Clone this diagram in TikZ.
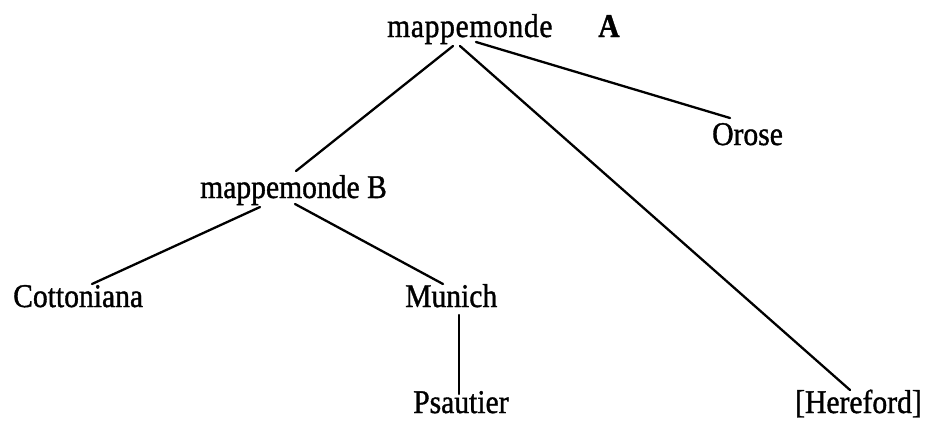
\documentclass[tikz,border=0pt]{standalone}
\usepackage{graphicx}
\usepackage{fontspec}
\setmainfont[FakeBold=1.2]{Liberation Serif}
\newfontfamily\spacedfont[LetterSpace=2.2,FakeBold=1.2]{Liberation Serif}
\newcommand{\tall}[1]{\scalebox{1}[1.12]{#1}}
\begin{document}
\begin{tikzpicture}[x=1pt,y=-1pt,
  lbl/.style={anchor=base west,inner sep=0pt,font=\fontsize{29.6}{32}\selectfont},
  edge/.style={line width=2.3pt,line cap=round}]
\useasboundingbox[fill=white] (0,0) rectangle (925,421);
\node[lbl] (mA) at (387,37) {\tall{\spacedfont mappemonde}};
\node[lbl] (A) at (598,37) {\tall{\bfseries A}};
\node[lbl] (mB) at (200,198) {\tall{mappemonde B}};
\node[lbl] (orose) at (712,145) {\tall{Orose}};
\node[lbl] (cot) at (13,307) {\tall{Cottoniana}};
\node[lbl] (mun) at (405,307) {\tall{Munich}};
\node[lbl] (psa) at (413,413) {\tall{Psautier}};
\node[lbl] (her) at (795,413) {\tall{[Hereford]}};
\coordinate (a1) at (453,46);
\coordinate (a2) at (460,46);
\coordinate (a3) at (476,42);
\coordinate (b0) at (296,171);
\coordinate (b1) at (260,207);
\coordinate (b2) at (295,204);
\coordinate (c0) at (92,284);
\coordinate (m0) at (443,284);
\coordinate (m1) at (459,315);
\coordinate (p0) at (459,394);
\coordinate (o0) at (730,118);
\coordinate (h0) at (850,390);
\draw[edge] (a1) -- (b0);
\draw[edge] (a2) -- (h0);
\draw[edge] (a3) -- (o0);
\draw[edge] (b1) -- (c0);
\draw[edge] (b2) -- (m0);
\draw[edge] (m1) -- (p0);
\end{tikzpicture}
\end{document}
